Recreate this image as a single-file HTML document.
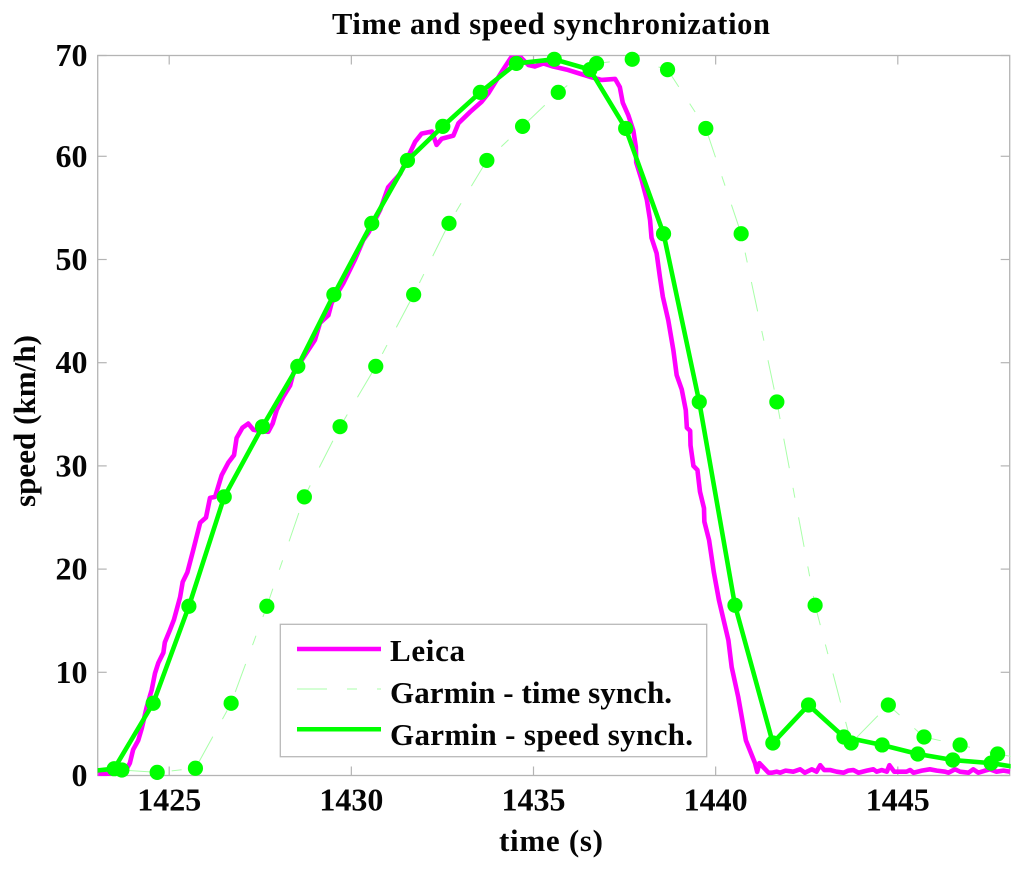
<!DOCTYPE html>
<html lang="en">
<head>
<meta charset="utf-8">
<title>Time and speed synchronization</title>
<style>
  html, body { margin: 0; padding: 0; background: #fff; }
  svg { display: block; }
  text { font-family: "Liberation Serif", serif; font-weight: bold; fill: #050505; }
</style>
</head>
<body>
<svg id="chart" xmlns="http://www.w3.org/2000/svg" width="1024" height="870" viewBox="0 0 1024 870">
  <defs>
    <clipPath id="plot-clip"><rect x="97.7" y="55.5" width="913" height="720.5"></rect></clipPath>
  </defs>
  <rect x="0" y="0" width="1024" height="870" fill="#ffffff"></rect>
  <text x="332" y="34" font-size="30.5" textLength="438" lengthAdjust="spacing">Time and speed synchronization</text>
  <text x="499" y="851" font-size="31" textLength="104" lengthAdjust="spacing">time (s)</text>
  <text transform="translate(35 507) rotate(-90)" font-size="31" textLength="172" lengthAdjust="spacing">speed (km/h)</text>
  <g id="axes"></g>
  <g id="series"></g>
  <g>
    <rect x="280.3" y="624.3" width="426.4" height="132.4" fill="#ffffff" stroke="#b8b8b8" stroke-width="1.3"></rect>
    <line x1="297" y1="649" x2="381" y2="649" stroke="#ff00ff" stroke-width="4.5"></line>
    <text x="390" y="661" font-size="31" textLength="75" lengthAdjust="spacing">Leica</text>
    <line x1="297" y1="689" x2="381" y2="689" stroke="#a8ffa8" stroke-width="1" stroke-dasharray="30 20 10 20"></line>
    <text x="390" y="703" font-size="31" textLength="282" lengthAdjust="spacing">Garmin - time synch.</text>
    <line x1="297" y1="729.3" x2="381" y2="729.3" stroke="#00ff00" stroke-width="4.5"></line>
    <text x="390" y="745" font-size="31" textLength="303" lengthAdjust="spacing">Garmin - speed synch.</text>
  </g>
</svg>
<script>
const xTickValues = [1425, 1430, 1435, 1440, 1445];
const yTickValues = [0, 10, 20, 30, 40, 50, 60, 70];

const leicaTimes = [1423.05,1423.32,1423.65,1423.81,1423.92,1424.01,1424.15,1424.25,1424.38,1424.52,1424.61,1424.70,1424.84,1424.88,1425.02,1425.13,1425.30,1425.37,1425.50,1425.66,1425.85,1426.01,1426.12,1426.26,1426.38,1426.44,1426.62,1426.78,1426.85,1427.01,1427.17,1427.31,1427.49,1427.72,1427.84,1427.95,1428.13,1428.32,1428.41,1428.73,1429.00,1429.14,1429.37,1429.46,1429.78,1430.10,1430.33,1430.47,1430.79,1431.01,1431.34,1431.55,1431.75,1431.93,1432.21,1432.34,1432.48,1432.80,1432.94,1433.26,1433.58,1433.76,1434.13,1434.40,1434.63,1434.86,1435.04,1435.27,1435.54,1435.91,1436.28,1436.55,1436.87,1437.24,1437.37,1437.45,1437.60,1437.74,1437.81,1437.82,1437.97,1438.11,1438.20,1438.24,1438.38,1438.47,1438.55,1438.70,1438.84,1438.93,1439.07,1439.18,1439.21,1439.30,1439.31,1439.39,1439.50,1439.57,1439.68,1439.69,1439.82,1439.95,1440.09,1440.35,1440.44,1440.62,1440.83,1441.08,1441.14,1441.20,1441.45,1441.54,1441.68,1441.77,1441.92,1442.13,1442.32,1442.45,1442.64,1442.77,1442.87,1442.98,1443.14,1443.32,1443.51,1443.64,1443.78,1443.92,1444.15,1444.33,1444.42,1444.56,1444.70,1444.77,1444.90,1445.24,1445.34,1445.43,1445.66,1445.88,1446.07,1446.30,1446.39,1446.57,1446.71,1446.94,1447.07,1447.21,1447.39,1447.53,1447.71,1447.90,1448.08];
const leicaSpeeds = [0.15,0.15,0.15,0.5,1.2,2.5,3.4,4.6,6.6,8.3,9.9,10.9,11.9,12.9,14.1,15.1,17.3,18.75,19.7,21.85,24.5,25,26.9,27,28.4,29.1,30.3,31.05,32.7,33.7,34.1,33.5,33.4,33.3,34.1,35.4,36.7,37.8,39,40.75,42.2,43.85,44.6,45.8,47.7,50,51.9,52.6,54.8,57,58.3,59.9,61.4,62.2,62.4,61.1,61.7,62,63.2,64.3,65.3,66.1,68.2,69.65,69.65,68.85,68.7,69,68.7,68.4,68,67.7,67.4,67.5,66.7,65.2,64,62.5,60.9,59.4,57.7,55.8,53.8,52.1,50.6,48.3,46.4,44.1,41.2,38.8,37.4,35.4,33.7,33.4,32,30,29.6,27.5,25.9,24.6,22.8,19.7,17,13.1,10.5,7.6,3.4,1.2,0.35,1.2,0.27,0.27,0.37,0.27,0.47,0.37,0.6,0.27,0.6,0.37,1.0,0.53,0.53,0.37,0.27,0.47,0.53,0.27,0.47,0.6,0.37,0.53,0.37,1.0,0.37,0.37,0.53,0.27,0.47,0.6,0.47,0.37,0.27,0.6,0.37,0.27,0.6,0.27,0.47,0.6,0.37,0.47,0.37];

const timeSynchTimes = [1423.70,1424.67,1425.72,1426.70,1427.68,1428.71,1429.69,1430.67,1431.71,1432.68,1433.72,1434.70,1435.68,1436.73,1437.71,1438.68,1439.73,1440.70,1441.68,1442.73,1443.72,1444.74,1445.72,1446.71,1447.74,1448.70];
const timeSynchSpeeds = [0.53,0.3,0.7,7,16.4,27,33.8,39.65,46.6,53.5,59.6,62.9,66.2,69,69.4,68.4,62.7,52.5,36.2,16.5,3.15,6.83,3.73,2.96,2.08,1.5];

const speedSynchTimes = [1422.50,1423.49,1424.56,1425.54,1426.51,1427.56,1428.53,1429.52,1430.56,1431.54,1432.51,1433.54,1434.53,1435.57,1436.55,1437.53,1438.57,1439.55,1440.53,1441.57,1442.55,1443.52,1444.57,1445.55,1446.51,1447.56,1448.58];
const speedSynchSpeeds = [0.3,0.66,7,16.4,27,33.8,39.65,46.6,53.5,59.6,62.9,66.2,69,69.4,68.4,62.7,52.5,36.2,16.5,3.15,6.83,3.73,2.96,2.08,1.5,1.2,0.63];

const SVG_NS = 'http://www.w3.org/2000/svg';
const frameLeft = 97.7, frameRight = 1009.7, frameTop = 55.5, frameBottom = 775.5;
const frameColor = '#b4b4b4';

function xScale(t) { return 169.2 + (t - 1425) * 36.43; }
function yScale(v) { return 775.5 - 10.32 * v; }

function make(tag, attrs, parent) {
  const el = document.createElementNS(SVG_NS, tag);
  for (const key in attrs) el.setAttribute(key, attrs[key]);
  parent.appendChild(el);
  return el;
}

const axes = document.getElementById('axes');
const seriesGroup = document.getElementById('series');

const frame = make('rect', { x: frameLeft, y: frameTop, width: frameRight - frameLeft, height: frameBottom - frameTop, fill: 'none', stroke: frameColor, 'stroke-width': 1.3 }, axes);



xTickValues.forEach(function (tick) {
  const x = xScale(tick);
  const bottomTick = make('line', { x1: x, y1: frameBottom, x2: x, y2: frameBottom - 9, stroke: frameColor, 'stroke-width': 1.2 }, axes);
  
  
  const topTick = make('line', { x1: x, y1: frameTop, x2: x, y2: frameTop + 9, stroke: frameColor, 'stroke-width': 1.2 }, axes);
  
  
  const label = make('text', { x: x, y: 810.7, 'font-size': 32, 'text-anchor': 'middle' }, axes);
  
  
  label.textContent = String(tick);
});

yTickValues.forEach(function (tick) {
  const y = Math.max(yScale(tick), frameTop);
  const leftTick = make('line', { x1: frameLeft, y1: y, x2: frameLeft + 9, y2: y, stroke: frameColor, 'stroke-width': 1.2 }, axes);
  
  
  const rightTick = make('line', { x1: frameRight, y1: y, x2: frameRight - 9, y2: y, stroke: frameColor, 'stroke-width': 1.2 }, axes);
  
  
  const label = make('text', { x: 87.5, y: y + 10.5, 'font-size': 32, 'text-anchor': 'end' }, axes);
  
  
  label.textContent = String(tick);
});

function pointsOf(times, speeds) {
  return times.map(function (t, i) { return xScale(t).toFixed(2) + ',' + yScale(speeds[i]).toFixed(2); }).join(' ');
}

const leicaLine = make('polyline', { points: pointsOf(leicaTimes, leicaSpeeds), fill: 'none', stroke: '#ff00ff', 'stroke-width': 4.6, 'stroke-linejoin': 'round', 'clip-path': 'url(#plot-clip)' }, seriesGroup);



const timeLine = make('polyline', { points: pointsOf(timeSynchTimes, timeSynchSpeeds), fill: 'none', stroke: '#a8ffa8', 'stroke-width': 1, 'stroke-dasharray': '30 20 10 20', 'clip-path': 'url(#plot-clip)' }, seriesGroup);



const speedLine = make('polyline', { points: pointsOf(speedSynchTimes, speedSynchSpeeds), fill: 'none', stroke: '#00ff00', 'stroke-width': 4.6, 'stroke-linejoin': 'round', 'clip-path': 'url(#plot-clip)' }, seriesGroup);



timeSynchTimes.forEach(function (t, i) {
  if (xScale(t) > frameRight) return;
  const dot = make('circle', { cx: xScale(t), cy: yScale(timeSynchSpeeds[i]), r: 7.6, fill: '#00ff00' }, seriesGroup);
  
  
});

speedSynchTimes.forEach(function (t, i) {
  if (xScale(t) > frameRight || xScale(t) < frameLeft) return;
  const dot = make('circle', { cx: xScale(t), cy: yScale(speedSynchSpeeds[i]), r: 7.6, fill: '#00ff00' }, seriesGroup);
  
  
});
</script>
</body>
</html>
